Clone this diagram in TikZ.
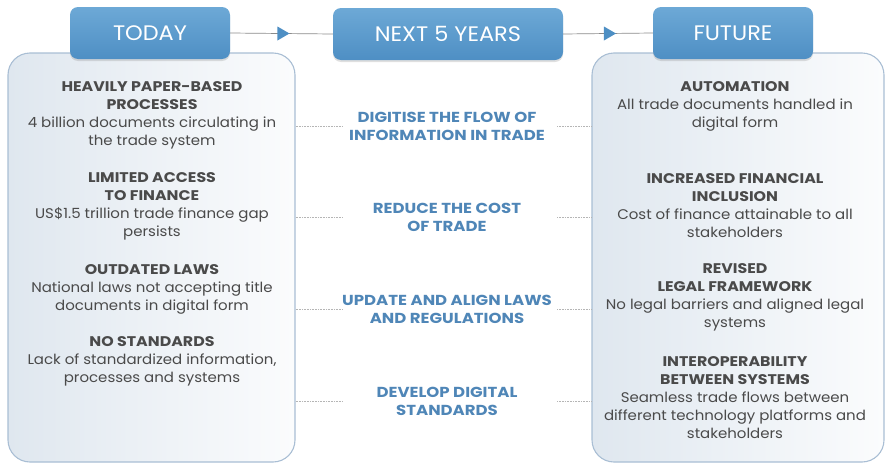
\documentclass[tikz,border=0pt]{standalone}
\usepackage{fontspec}
\setmainfont{Poppins}
\newfontfamily\bodyf{Poppins}[FakeStretch=1.07]
\newfontfamily\hdf{Poppins}[FakeStretch=1.13]
\newfontfamily\midf{Poppins}[FakeStretch=1.14]
\newfontfamily\topf{Poppins}[FakeStretch=1.07]
\usetikzlibrary{shapes.geometric,shadows,calc}
\definecolor{hdrtop}{HTML}{6DA9D6}
\definecolor{hdrbot}{HTML}{4E8FC4}
\definecolor{panelline}{HTML}{A9BED4}
\definecolor{panelleft}{HTML}{DFE7EF}
\definecolor{panelright}{HTML}{FBFCFD}
\definecolor{textgray}{HTML}{4A4A4A}
\definecolor{midblue}{HTML}{4F86B7}
\definecolor{dotgray}{HTML}{B5B5B5}
\definecolor{linegray}{HTML}{8A8A8A}
\newcommand{\hd}[1]{{\hdf\bfseries #1}}
\begin{document}
\begin{tikzpicture}[x=1pt,y=-1pt,
 hdr/.style={rounded corners=8pt, top color=hdrtop, bottom color=hdrbot, text=white,
   font=\topf\fontsize{21}{24}\selectfont, minimum height=52pt,
   drop shadow={opacity=0.25, shadow xshift=0pt, shadow yshift=-2pt}},
 panel/.style={draw=panelline, line width=1.1pt, rounded corners=22pt,
   left color=panelleft, right color=panelright},
 body/.style={align=center, text=textgray, font=\bodyf\fontsize{14}{18}\selectfont, inner sep=0pt},
 midtxt/.style={align=center, text=midblue, font=\midf\bfseries\fontsize{14.5}{18}\selectfont, inner sep=0pt},
 dots/.style={draw=dotgray, line width=0.7pt, dash pattern=on 0.8pt off 0.8pt},
 conn/.style={draw=linegray, line width=0.7pt},
 tri/.style={isosceles triangle, isosceles triangle stretches, fill=hdrbot, minimum width=14pt,
   minimum height=12pt, inner sep=0pt}
]
\useasboundingbox (0,0) rectangle (887,466);
% panels
\node[panel, minimum width=287pt, minimum height=409pt] (lp) at (151.5,257.5) {};
\node[panel, minimum width=292pt, minimum height=409pt] (rp) at (738,257.5) {};
% headers
\node[hdr, minimum width=160pt] (today) at (150,33) {TODAY};
\node[hdr, minimum width=230pt] (next) at (448,34) {NEXT 5 YEARS};
\node[hdr, minimum width=160pt] (future) at (733,33) {FUTURE};
\draw[conn] (today.east) -- node[tri]{} (next.west);
\draw[conn] (next.east) -- node[tri]{} (future.west);
% left column
\node[body] (l1) at (152,115) {\hd{HEAVILY PAPER-BASED}\\\hd{PROCESSES}\\4 billion documents circulating in\\the trade system};
\node[body] (l2) at (152,206.5) {\hd{LIMITED ACCESS}\\\hd{TO FINANCE}\\US\$1.5 trillion trade finance gap\\persists};
\node[body] (l3) at (152,289) {\hd{OUTDATED LAWS}\\National laws not accepting title\\documents in digital form};
\node[body] (l4) at (152,361) {\hd{NO STANDARDS}\\Lack of standardized information,\\processes and systems};
% right column
\node[body] (r1) at (735,106) {\hd{AUTOMATION}\\All trade documents handled in\\digital form};
\node[body] (r2) at (735,206) {\hd{INCREASED FINANCIAL}\\\hd{INCLUSION}\\Cost of finance attainable to all\\stakeholders};
\node[body] (r3) at (735,297) {\hd{REVISED}\\\hd{LEGAL FRAMEWORK}\\No legal barriers and aligned legal\\systems};
\node[body] (r4) at (735,398) {\hd{INTEROPERABILITY}\\\hd{BETWEEN SYSTEMS}\\Seamless trade flows between\\different technology platforms and\\stakeholders};
% middle column
\node[midtxt] (m1) at (447,126.5) {DIGITISE THE FLOW OF\\INFORMATION IN TRADE};
\node[midtxt] (m2) at (447,217) {REDUCE THE COST\\OF TRADE};
\node[midtxt] (m3) at (447,309) {UPDATE AND ALIGN LAWS\\AND REGULATIONS};
\node[midtxt] (m4) at (447,401) {DEVELOP DIGITAL\\STANDARDS};
\foreach \m in {m1,m2,m3,m4}{
  \draw[dots] (lp.east |- \m) -- ++(47,0);
  \draw[dots] (rp.west |- \m) -- ++(-34,0);
}
\end{tikzpicture}
\end{document}
